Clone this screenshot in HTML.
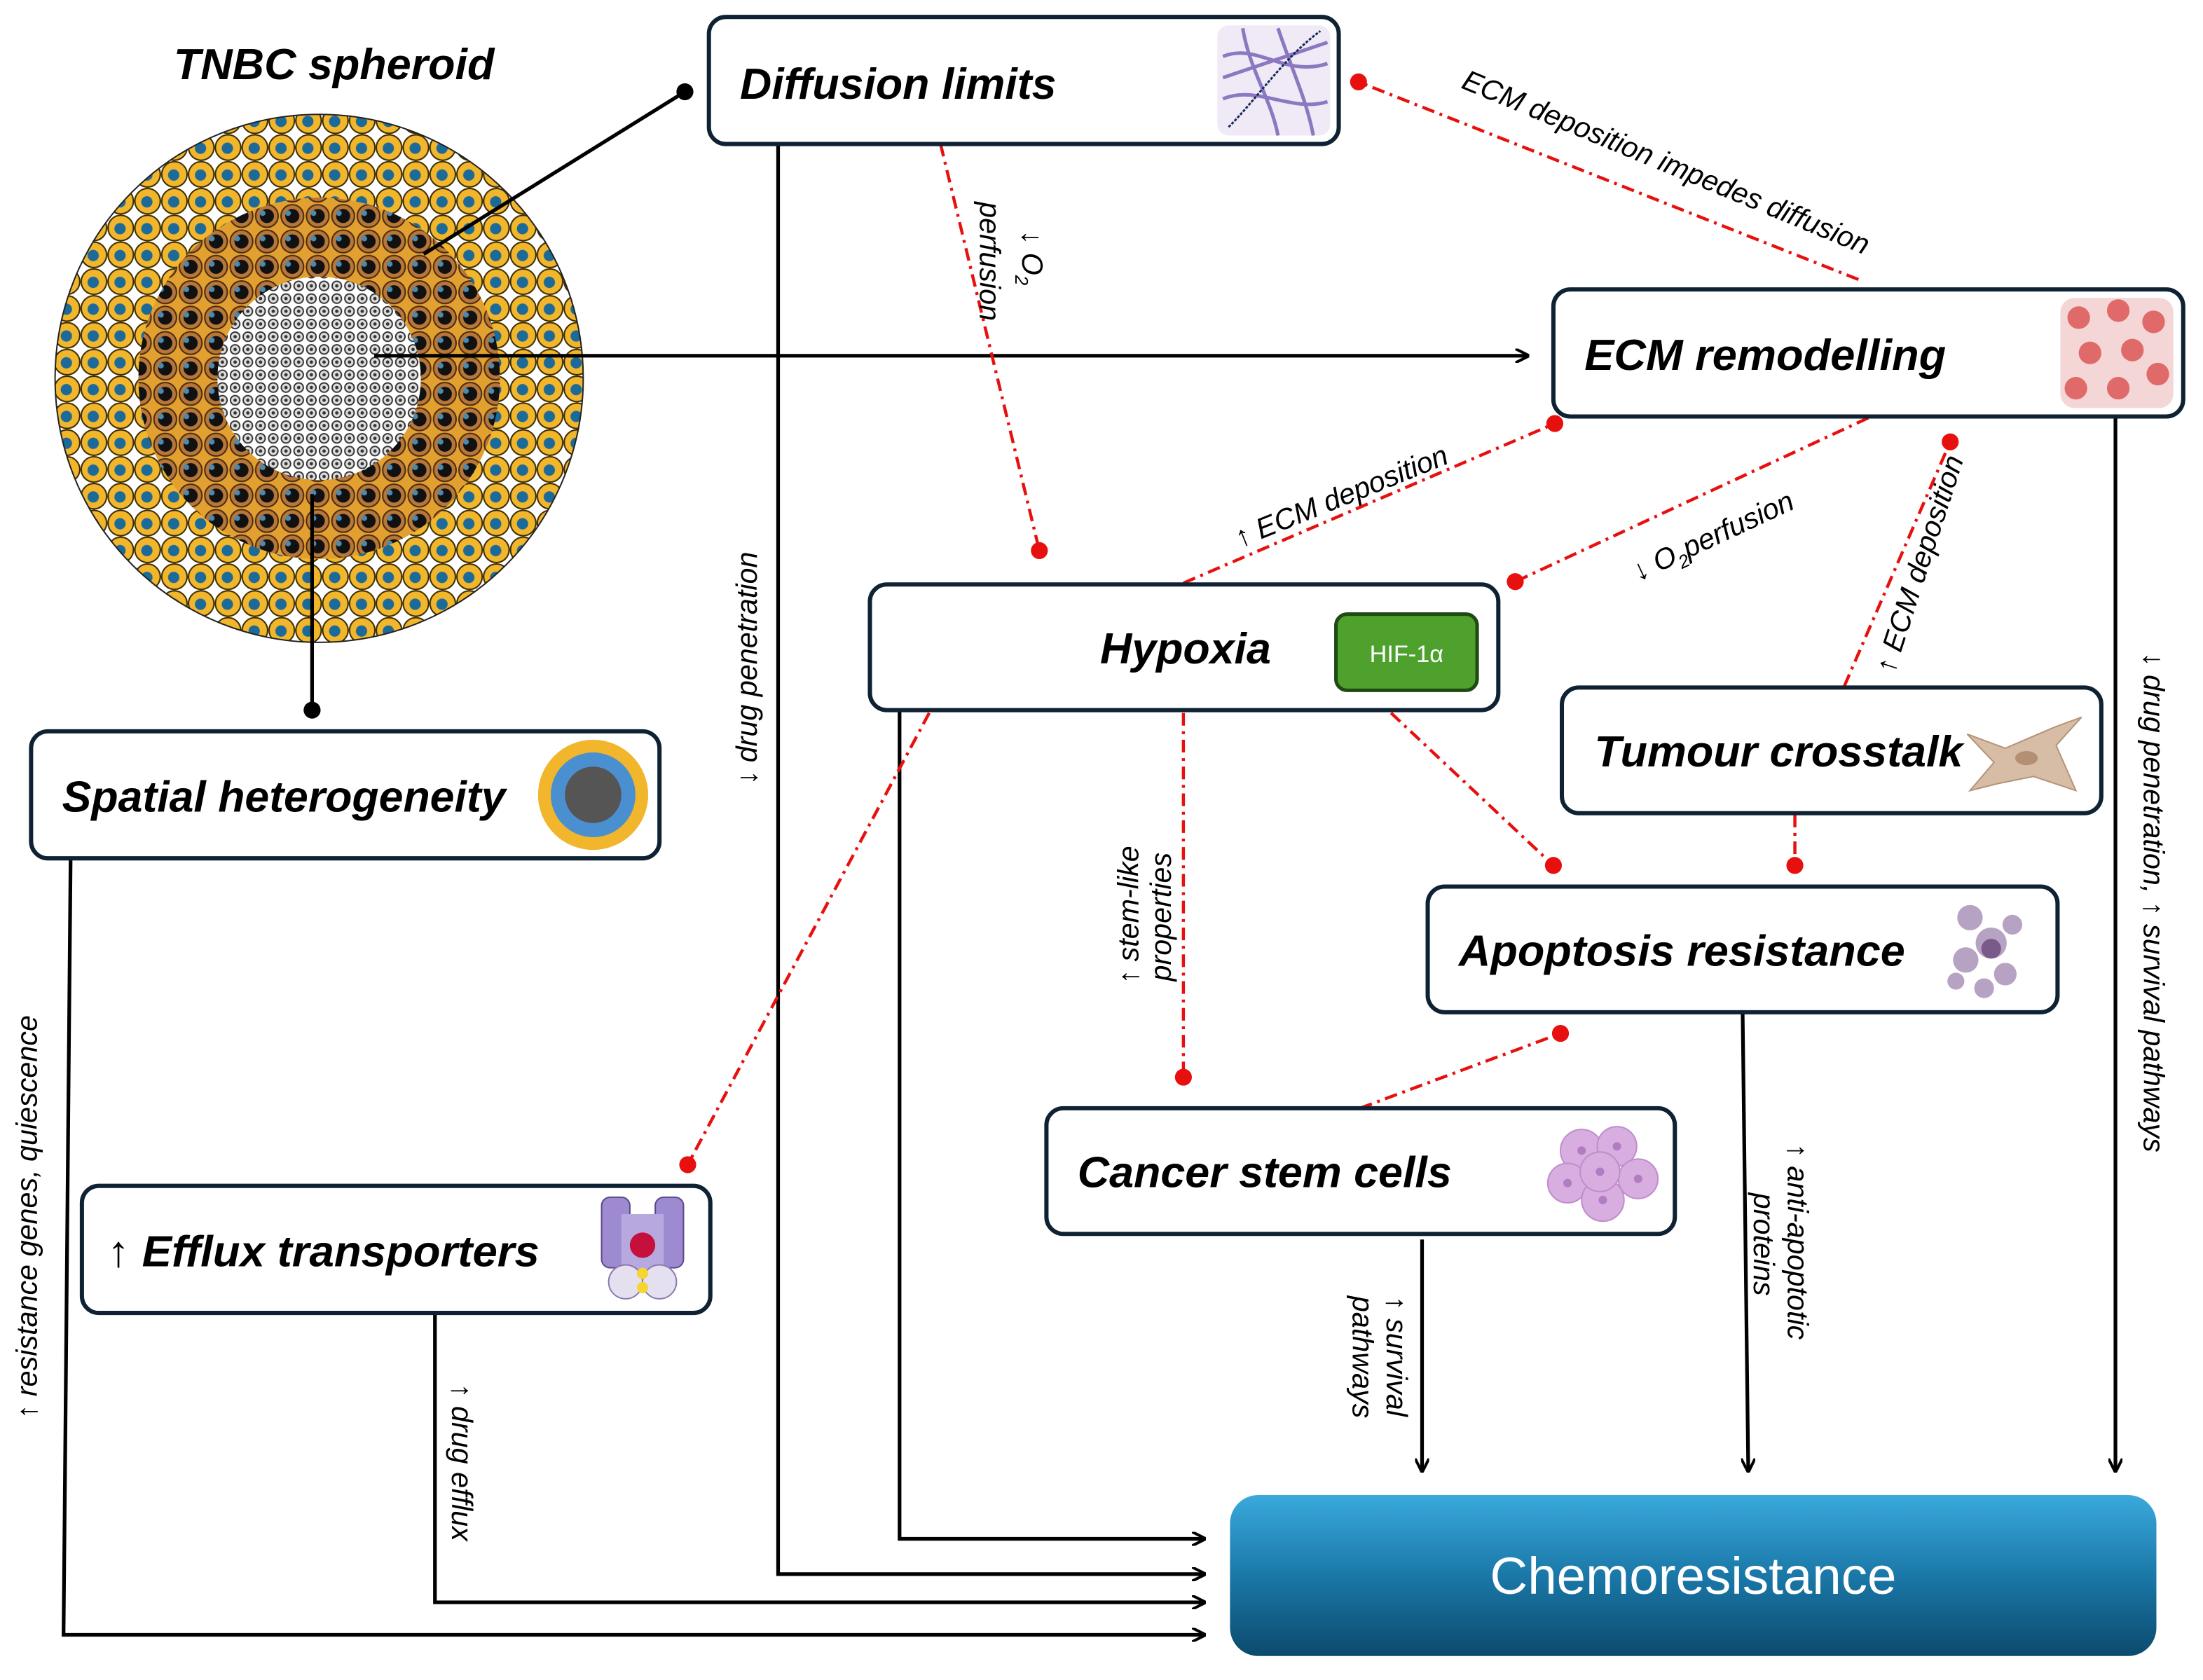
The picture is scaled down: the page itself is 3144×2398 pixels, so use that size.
<!DOCTYPE html>
<html><head><meta charset="utf-8"><style>
html,body{margin:0;padding:0;background:#fff}
svg{display:block}
.t{font-family:"Liberation Sans",sans-serif;font-weight:bold;font-style:italic;font-size:31px;fill:#000}
.l{font-family:"Liberation Sans",sans-serif;font-style:italic;font-size:20.5px;fill:#000}
.box{fill:#fff;stroke:#0f2233;stroke-width:3}
.k{stroke:#000;stroke-width:2.6;fill:none}
.r{stroke:#e8100f;stroke-width:2.2;fill:none;stroke-dasharray:9 4 2 4}
.d{fill:#e8100f}
</style></head><body>
<svg width="3144" height="2398" viewBox="0 0 1560 1190" preserveAspectRatio="none" xmlns="http://www.w3.org/2000/svg">
<defs>
<marker id="a" markerWidth="10" markerHeight="10" refX="9" refY="5" orient="auto" markerUnits="userSpaceOnUse"><path d="M0,0 L10,5 L0,10" fill="none" stroke="#000" stroke-width="2"/></marker>
<pattern id="py" width="19" height="19" patternUnits="userSpaceOnUse"><rect width="19" height="19" fill="#fff"/><circle cx="9.5" cy="9.5" r="9" fill="#f1b62b" stroke="#3a2a00" stroke-width="1"/><circle cx="9" cy="10" r="4" fill="#1c6a9a"/></pattern>
<pattern id="pb" width="18" height="18" patternUnits="userSpaceOnUse"><rect width="18" height="18" fill="#e2a030"/><circle cx="9" cy="9" r="8" fill="#b7773a" stroke="#4a2a10" stroke-width="1"/><circle cx="9" cy="9" r="5" fill="#111"/><circle cx="6" cy="7" r="2" fill="#4a8ab0"/></pattern>
<pattern id="pg" width="9" height="9" patternUnits="userSpaceOnUse"><rect width="9" height="9" fill="#fff"/><circle cx="4.5" cy="4.5" r="3.3" fill="#ddd" stroke="#333" stroke-width="1"/><circle cx="4.5" cy="4.5" r="1.2" fill="#333"/></pattern>
<linearGradient id="cg" x1="0" y1="0" x2="0" y2="1"><stop offset="0" stop-color="#3aa9dc"/><stop offset="0.5" stop-color="#1a78a8"/><stop offset="1" stop-color="#0c4a6e"/></linearGradient>
</defs>

<text class="t" x="123" y="56" textLength="227" lengthAdjust="spacingAndGlyphs">TNBC spheroid</text>
<circle cx="226" cy="268" r="187" fill="url(#py)" stroke="#222" stroke-width="1"/>
<circle cx="226" cy="268" r="128" fill="url(#pb)"/>
<circle cx="226" cy="268" r="72" fill="url(#pg)"/>

<line class="k" x1="300" y1="180" x2="485" y2="65"/><circle cx="485" cy="65" r="6"/>
<line class="k" x1="265" y1="252" x2="1082" y2="252" marker-end="url(#a)"/>
<line class="k" x1="221" y1="350" x2="221" y2="503"/><circle cx="221" cy="503" r="6"/>
<polyline class="k" points="551,102 551,1115 853,1115" marker-end="url(#a)"/>
<polyline class="k" points="637,503 637,1090 853,1090" marker-end="url(#a)"/>
<polyline class="k" points="308,930 308,1135 853,1135" marker-end="url(#a)"/>
<polyline class="k" points="50,608 45,1158 853,1158" marker-end="url(#a)"/>
<line class="k" x1="1007" y1="878" x2="1007" y2="1042" marker-end="url(#a)"/>
<line class="k" x1="1234" y1="717" x2="1238" y2="1042" marker-end="url(#a)"/>
<line class="k" x1="1498" y1="295" x2="1498" y2="1042" marker-end="url(#a)"/>

<line class="r" x1="666" y1="102" x2="736" y2="390"/><circle class="d" cx="736" cy="390" r="6"/>
<line class="r" x1="1316" y1="198" x2="962" y2="58"/><circle class="d" cx="962" cy="58" r="6"/>
<line class="r" x1="838" y1="413" x2="1101" y2="300"/><circle class="d" cx="1101" cy="300" r="6"/>
<line class="r" x1="1323" y1="296" x2="1073" y2="412"/><circle class="d" cx="1073" cy="412" r="6"/>
<line class="r" x1="1306" y1="486" x2="1381" y2="313"/><circle class="d" cx="1381" cy="313" r="6"/>
<line class="r" x1="985" y1="505" x2="1100" y2="613"/><circle class="d" cx="1100" cy="613" r="6"/>
<line class="r" x1="1271" y1="577" x2="1271" y2="613"/><circle class="d" cx="1271" cy="613" r="6"/>
<line class="r" x1="838" y1="505" x2="838" y2="763"/><circle class="d" cx="838" cy="763" r="6"/>
<line class="r" x1="963" y1="785" x2="1105" y2="732"/><circle class="d" cx="1105" cy="732" r="6"/>
<line class="r" x1="658" y1="505" x2="487" y2="825"/><circle class="d" cx="487" cy="825" r="6"/>

<text class="l" transform="translate(724,163) rotate(90)">↓ O<tspan font-size="13" dy="5">2</tspan></text>
<text class="l" transform="translate(694,143) rotate(90)">perfusion</text>
<text class="l" transform="translate(1034,62) rotate(22.5)">ECM deposition impedes diffusion</text>
<text class="l" transform="translate(878,388) rotate(-22)">↑ ECM deposition</text>
<text class="l" transform="translate(1160,412) rotate(-25)">↓ O<tspan font-size="13" dy="5">2</tspan><tspan dy="-5">perfusion</tspan></text>
<text class="l" transform="translate(1341,478) rotate(-72)">↑ ECM deposition</text>
<text class="l" transform="translate(536,556) rotate(-90)">↓ drug penetration</text>
<text class="l" transform="translate(806,697) rotate(-90)">↑ stem-like</text>
<text class="l" transform="translate(829,695) rotate(-90)">properties</text>
<text class="l" transform="translate(26,1005) rotate(-90)">↑ resistance genes, quiescence</text>
<text class="l" transform="translate(320,980) rotate(90)">↑ drug efflux</text>
<text class="l" transform="translate(982,918) rotate(90)">↑ survival</text>
<text class="l" transform="translate(958,918) rotate(90)">pathways</text>
<text class="l" transform="translate(1266,810) rotate(90)">↑ anti-apoptotic</text>
<text class="l" transform="translate(1242,845) rotate(90)">proteins</text>
<text class="l" transform="translate(1518,462) rotate(90)">↓ drug penetration, ↑ survival pathways</text>

<rect class="box" x="502" y="12" width="446" height="90" rx="12"/>
<text class="t" x="524" y="70" textLength="224" lengthAdjust="spacingAndGlyphs">Diffusion limits</text>
<rect x="862" y="18" width="80" height="78" rx="8" fill="#efeaf6"/>
<path d="M866,40 C890,30 910,55 940,45 M866,70 C890,60 915,80 940,72 M880,20 C885,50 900,70 905,96 M905,20 C915,50 925,70 930,96 M866,55 L940,30" stroke="#8b78c0" stroke-width="2.5" fill="none"/>
<path d="M870,90 C890,70 910,40 935,22" stroke="#1b2a5a" stroke-width="1.5" stroke-dasharray="2 1" fill="none"/>

<rect class="box" x="1100" y="205" width="446" height="90" rx="12"/>
<text class="t" x="1122" y="262" textLength="256" lengthAdjust="spacingAndGlyphs">ECM remodelling</text>
<rect x="1459" y="211" width="80" height="78" rx="10" fill="#f4d6d6"/>
<g fill="#e06a6a"><circle cx="1472" cy="225" r="8"/><circle cx="1500" cy="220" r="8"/><circle cx="1525" cy="228" r="8"/><circle cx="1480" cy="250" r="8"/><circle cx="1510" cy="248" r="8"/><circle cx="1470" cy="275" r="8"/><circle cx="1500" cy="275" r="8"/><circle cx="1528" cy="265" r="8"/></g>

<rect class="box" x="616" y="414" width="445" height="89" rx="12"/>
<text class="t" x="779" y="470" textLength="121" lengthAdjust="spacingAndGlyphs">Hypoxia</text>
<rect x="946" y="435" width="100" height="54" rx="8" fill="#4ea12c" stroke="#1f4a14" stroke-width="2.5"/>
<text x="996" y="469" text-anchor="middle" font-family="Liberation Sans,sans-serif" font-size="17" fill="#fff">HIF-1α</text>

<rect class="box" x="1106" y="487" width="382" height="89" rx="12"/>
<text class="t" x="1129" y="543" textLength="261" lengthAdjust="spacingAndGlyphs">Tumour crosstalk</text>
<path d="M1393,520 L1420,530 L1455,515 L1474,508 L1456,528 L1470,560 L1440,550 L1415,555 L1395,560 L1412,540 Z" fill="#d7bca6" stroke="#b49478" stroke-width="1"/>
<ellipse cx="1435" cy="537" rx="8" ry="5" fill="#b58f74"/>

<rect class="box" x="22" y="518" width="445" height="90" rx="12"/>
<text class="t" x="44" y="575" textLength="314" lengthAdjust="spacingAndGlyphs">Spatial heterogeneity</text>
<circle cx="420" cy="563" r="39" fill="#f1b62b"/><circle cx="420" cy="563" r="30" fill="#4a90d0"/><circle cx="420" cy="563" r="20" fill="#555"/>

<rect class="box" x="1011" y="628" width="446" height="89" rx="12"/>
<text class="t" x="1033" y="684" textLength="316" lengthAdjust="spacingAndGlyphs">Apoptosis resistance</text>
<g fill="#a48bb4" opacity="0.8"><circle cx="1395" cy="650" r="9"/><circle cx="1410" cy="668" r="11"/><circle cx="1392" cy="680" r="9"/><circle cx="1420" cy="690" r="8"/><circle cx="1405" cy="700" r="7"/><circle cx="1425" cy="655" r="7"/><circle cx="1385" cy="695" r="6"/></g>
<circle cx="1410" cy="672" r="7" fill="#7a5a8a"/>

<rect class="box" x="741" y="785" width="445" height="89" rx="12"/>
<text class="t" x="763" y="841" textLength="265" lengthAdjust="spacingAndGlyphs">Cancer stem cells</text>
<g fill="#d8aee0" stroke="#c08ccc" stroke-width="1"><circle cx="1120" cy="815" r="15"/><circle cx="1145" cy="812" r="14"/><circle cx="1110" cy="838" r="14"/><circle cx="1160" cy="835" r="14"/><circle cx="1135" cy="850" r="15"/><circle cx="1133" cy="830" r="14"/></g>
<g fill="#b27cc0"><circle cx="1120" cy="815" r="3"/><circle cx="1145" cy="812" r="3"/><circle cx="1110" cy="838" r="3"/><circle cx="1160" cy="835" r="3"/><circle cx="1135" cy="850" r="3"/><circle cx="1133" cy="830" r="3"/></g>

<rect class="box" x="58" y="840" width="445" height="90" rx="12"/>
<text class="t" x="76" y="897" textLength="306" lengthAdjust="spacingAndGlyphs">↑ Efflux transporters</text>
<rect x="426" y="848" width="20" height="50" rx="6" fill="#9d8ad0" stroke="#5a4a8a"/><rect x="464" y="848" width="20" height="50" rx="6" fill="#9d8ad0" stroke="#5a4a8a"/>
<rect x="440" y="860" width="30" height="40" fill="#b8a8e0"/>
<circle cx="455" cy="882" r="9" fill="#c4103a"/>
<ellipse cx="443" cy="908" rx="12" ry="12" fill="#e4e0f0" stroke="#8a7ab0"/><ellipse cx="467" cy="908" rx="12" ry="12" fill="#e4e0f0" stroke="#8a7ab0"/>
<circle cx="455" cy="902" r="4" fill="#f5d630"/><circle cx="455" cy="912" r="4" fill="#f5d630"/>

<rect x="871" y="1059" width="656" height="114" rx="20" fill="url(#cg)"/>
<text x="1199" y="1129" text-anchor="middle" font-family="Liberation Sans,sans-serif" font-size="37" fill="#fff">Chemoresistance</text>
</svg>
</body></html>
